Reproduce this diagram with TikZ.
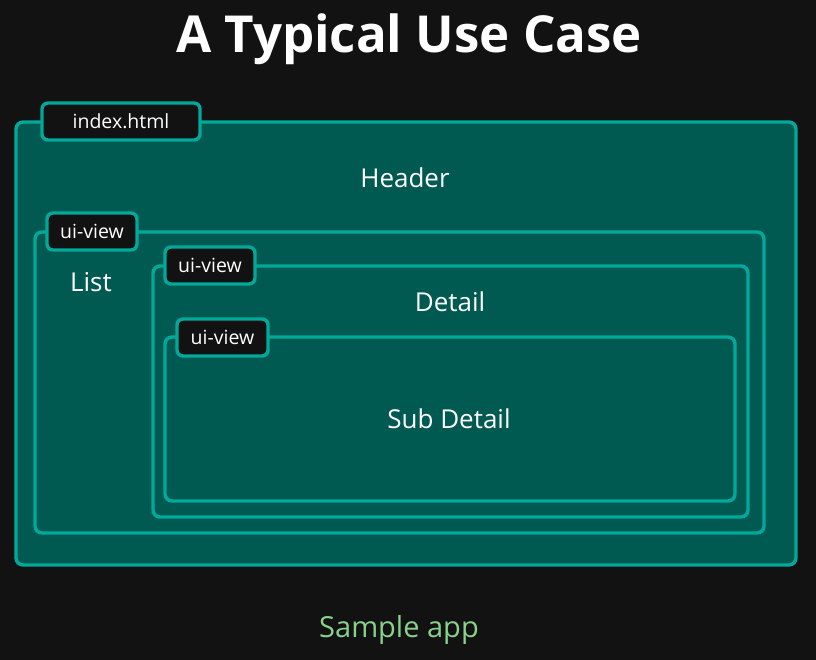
\documentclass[tikz,border=0pt]{standalone}
\usepackage{fontspec}
\setmainfont{Open Sans}
\definecolor{bgc}{HTML}{121212}
\definecolor{boxfill}{HTML}{005A52}
\definecolor{boxline}{HTML}{00A99A}
\definecolor{capgreen}{HTML}{8AD18C}
\tikzset{
  panel/.style={draw=boxline, fill=boxfill, line width=3.4pt, rounded corners=7pt},
  tab/.style={draw=boxline, fill=bgc, line width=3.4pt, rounded corners=6pt, text=white, font=\fontsize{19.5}{21}\selectfont, inner sep=0pt},
  label/.style={text=white, font=\fontsize{26}{30}\selectfont, inner sep=0pt},
}
\begin{document}
\begin{tikzpicture}[x=1pt,y=-1pt]
\fill[bgc] (0,0) rectangle (816,660);
\useasboundingbox (0,0) rectangle (816,660);
\node[text=white, font=\fontsize{51}{55}\selectfont\bfseries, inner sep=0pt] (title) at (409,39) {A Typical Use Case};
% outer
\draw[panel] (16,122) rectangle (796,565);
\node[tab, minimum width=158pt, minimum height=37pt] (t1) at (121,121.5) {index.html};
\node[label] (header) at (405,178) {Header};
% box2
\draw[panel] (35,232) rectangle (764,533);
\node[tab, minimum width=90pt, minimum height=37pt] (t2) at (92,231.5) {ui-view};
\node[label] (list) at (91,282) {List};
% box3
\draw[panel] (153,266) rectangle (748,517);
\node[tab, minimum width=90pt, minimum height=37pt] (t3) at (210,265.5) {ui-view};
\node[label] (detail) at (450,302) {Detail};
% box4
\draw[panel] (165,337) rectangle (735,501);
\node[tab, minimum width=91pt, minimum height=37pt] (t4) at (222.5,337.5) {ui-view};
\node[label] (sub) at (449,419) {Sub Detail};
\node[text=capgreen, font=\fontsize{29}{32}\selectfont, inner sep=0pt] (cap) at (399,630) {Sample app};
\end{tikzpicture}
\end{document}
